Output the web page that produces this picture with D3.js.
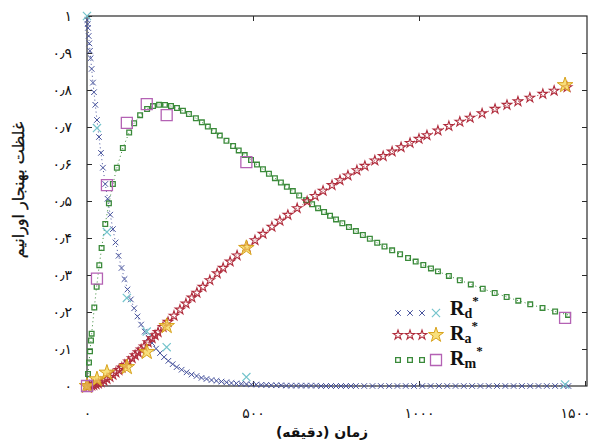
<!DOCTYPE html>
<html><head><meta charset="utf-8">
<script src="https://cdn.jsdelivr.net/npm/d3@7"></script>
<style>body{margin:0;background:#fff}svg{display:block}</style>
</head><body>
<svg id="c" width="592" height="443"></svg>
<script>
// ---- data ----
const tD = [0,1,2,3,5,7,9,11,14,18,21,25,30,36,42,48,55,62,70,78,86,95,104,113,122,132,142,152,163,174,185,196,208,220,232,245,258,270,285,300,315,330,345,360,375,390,405,420,435,450,465,480,495,510,525,540,555,570,585,600,615,630,645,660,675,690,705,720,735,750,765,780,795,810,835,860,885,910,935,960,985,1010,1035,1060,1085,1110,1135,1160,1185,1210,1235,1260,1285,1310,1335,1360,1385,1410,1435,1450];
const rd = [1,0.989,0.978,0.968,0.946,0.926,0.906,0.886,0.857,0.820,0.794,0.760,0.719,0.673,0.630,0.590,0.546,0.506,0.463,0.424,0.388,0.352,0.319,0.289,0.261,0.234,0.210,0.188,0.166,0.147,0.131,0.116,0.101,0.089,0.078,0.068,0.059,0.051,0.044,0.037,0.031,0.027,0.022,0.019,0.016,0.014,0.012,0.010,0.008,0.007,0.006,0.005,0.004,0.004,0.003,0.003,0.002,0.002,0.002,0.001,0.001,0.001,0.001,0.001,0.001,0.001,0,0,0,0,0,0,0,0,0,0,0,0,0,0,0,0,0,0,0,0,0,0,0,0,0,0,0,0,0,0,0,0,0,0];
const tA = [0,3,8,14,20,27,34,42,51,60,69,78,87,96,105,114,125,136,145,154,163,172,184,196,205,214,229,244,262,280,298,316,331,349,370,392,410,431,452,482,506,530,557,581,605,633,663,687,711,738,762,786,813,837,867,892,919,946,973,1000,1024,1057,1090,1123,1154,1190,1229,1265,1298,1334,1373,1407,1446];
const ra = [0,0.0001,0.0004,0.0012,0.0025,0.0044,0.0067,0.0099,0.0142,0.0190,0.0243,0.0301,0.0363,0.0428,0.0496,0.0567,0.0657,0.0750,0.0828,0.0907,0.0987,0.1068,0.1177,0.1287,0.1370,0.1454,0.1593,0.1732,0.1898,0.2063,0.2226,0.2388,0.2520,0.2678,0.2858,0.3043,0.3192,0.3361,0.3527,0.3758,0.3937,0.4111,0.4301,0.4465,0.4624,0.4804,0.4990,0.5135,0.5275,0.5428,0.5560,0.5688,0.5828,0.5948,0.6094,0.6211,0.6334,0.6452,0.6567,0.6679,0.6775,0.6902,0.7024,0.7141,0.7248,0.7366,0.7488,0.7596,0.7691,0.7790,0.7893,0.7979,0.8072];
const tM = [0,3,6,9,12,14,22,29,37,44,55,66,78,90,108,127,142,160,181,199,217,235,253,271,289,307,328,346,364,382,400,420,440,457,475,494,512,530,548,566,584,602,620,639,660,678,696,714,732,750,769,789,810,831,852,874,896,919,943,967,990,1013,1036,1057,1090,1123,1156,1192,1228,1264,1299,1335,1372,1410,1449];
const rm = [0,0.0324,0.0636,0.0938,0.1228,0.1415,0.2120,0.2682,0.3265,0.3728,0.4377,0.4936,0.5459,0.5900,0.6432,0.6853,0.7101,0.7320,0.7485,0.7565,0.7599,0.7598,0.7566,0.7512,0.7439,0.7351,0.7235,0.7126,0.7011,0.6891,0.6768,0.6629,0.6488,0.6368,0.6241,0.6108,0.5984,0.5860,0.5738,0.5618,0.5499,0.5382,0.5268,0.5149,0.5021,0.4913,0.4807,0.4704,0.4602,0.4503,0.4400,0.4295,0.4186,0.4081,0.3978,0.3872,0.3770,0.3666,0.3560,0.3458,0.3362,0.3269,0.3178,0.3098,0.2976,0.2859,0.2746,0.2628,0.2515,0.2407,0.2306,0.2207,0.2110,0.2014,0.1921];
const tExp = [0,30,60,120,180,240,480,1440];
const rdExp = [1.0,0.697,0.416,0.238,0.147,0.105,0.024,0.004];
const raExp = [0,0.018,0.036,0.051,0.092,0.162,0.373,0.813];
const rmExp = [0,0.29,0.543,0.711,0.762,0.732,0.605,0.184];
const yTicks = [0,0.1,0.2,0.3,0.4,0.5,0.6,0.7,0.8,0.9,1];
const yTickLabels = ["۰","۰٫۱","۰٫۲","۰٫۳","۰٫۴","۰٫۵","۰٫۶","۰٫۷","۰٫۸","۰٫۹","۱"];
const xTicks = [0,500,1000,1500];
const xTickLabels = ["۰","۵۰۰","۱۰۰۰","۱۵۰۰"];
const yTitle = "غلظت بهنجار اورانیم";
const xTitle = "زمان (دقیقه)";
const legendNames = [["R","d"],["R","a"],["R","m"]];

// ---- layout ----
const L = 87, R = 587, T = 16, B = 386;
const x = d3.scaleLinear().domain([0,1500]).range([L,585]);
const y = d3.scaleLinear().domain([0,1]).range([B,T]);
const svg = d3.select("#c");
const FA = "DejaVu Sans";

const cD = "#46529c", cDx = "#74c4cc";
const cA = "#b02c3c", cAxF = "#f5d550", cAxS = "#d8a21c";
const cM = "#3a8a3a", cMx = "#b462b4";

// frame
svg.append("rect").attr("x",L).attr("y",T).attr("width",R-L).attr("height",B-T)
  .attr("fill","none").attr("stroke","#2a2a2a").attr("stroke-width",1.2);

// axes (inward ticks)
const gl = svg.append("g").attr("transform",`translate(${L},0)`)
  .call(d3.axisLeft(y).tickValues(yTicks).tickFormat((d,i)=>yTickLabels[i]).tickSizeInner(-5).tickSizeOuter(0).tickPadding(15));
gl.select(".domain").remove();
gl.selectAll("line").attr("stroke","#2a2a2a");
gl.selectAll("text").attr("font-family",FA).attr("font-size",14).attr("fill","#111");

const gr = svg.append("g").attr("transform",`translate(${R},0)`)
  .call(d3.axisRight(y).tickValues(yTicks.slice(1,10)).tickFormat("").tickSizeInner(-5).tickSizeOuter(0));
gr.select(".domain").remove(); gr.selectAll("line").attr("stroke","#2a2a2a");

const gt = svg.append("g").attr("transform",`translate(0,${T})`)
  .call(d3.axisTop(x).tickValues([500,1000]).tickFormat("").tickSizeInner(-5).tickSizeOuter(0));
gt.select(".domain").remove(); gt.selectAll("line").attr("stroke","#2a2a2a");

const gb = svg.append("g").attr("transform",`translate(0,${B})`)
  .call(d3.axisBottom(x).tickValues(xTicks).tickFormat((d,i)=>xTickLabels[i]).tickSizeInner(-5).tickSizeOuter(0).tickPadding(22));
gb.select(".domain").remove(); gb.selectAll("line").attr("stroke","#2a2a2a");
gb.selectAll("text").attr("font-family",FA).attr("font-size",14).attr("fill","#111");
// keep the last label inside the picture
gb.selectAll(".tick").filter(d=>d===1500).select("text").attr("text-anchor","end").attr("dx",5);

// titles
svg.append("text").attr("transform",`translate(24,190) rotate(-90)`).attr("text-anchor","middle")
  .attr("font-family",FA).attr("font-size",16).attr("fill","#111").attr("stroke","#111").attr("stroke-width",0.3).text(yTitle);
svg.append("text").attr("x",322).attr("y",437).attr("text-anchor","middle")
  .attr("font-family",FA).attr("font-size",14).attr("font-weight","bold").attr("fill","#111").text(xTitle);

// series
const plot = svg.append("g");
function series(ts, vs, color, type, size, sw){
  const pts = ts.map((t,i)=>[x(t),y(vs[i])]);
  plot.append("path").attr("d",d3.line()(pts)).attr("fill","none").attr("stroke",color)
    .attr("stroke-width",1).attr("stroke-dasharray","1,3");
  plot.append("g").selectAll("path").data(pts).join("path")
    .attr("transform",d=>`translate(${d[0]},${d[1]})`)
    .attr("d",d3.symbol().type(type).size(size)())
    .attr("fill","none").attr("stroke",color).attr("stroke-width",sw);
}
series(tM, rm, cM, d3.symbolSquare, 22, 1.3);
series(tD, rd, cD, d3.symbolX, 22, 1);
series(tA, ra, cA, d3.symbolStar, 28, 1.1);

// experimental
function expPts(vs){ return tExp.map((t,i)=>[x(t),y(vs[i])]); }
plot.append("g").selectAll("path").data(expPts(rdExp)).join("path")
  .attr("transform",d=>`translate(${d[0]},${d[1]})`)
  .attr("d",d3.symbol().type(d3.symbolX).size(45)()).attr("fill","none").attr("stroke",cDx).attr("stroke-width",1.2);
plot.append("g").selectAll("path").data(expPts(raExp)).join("path")
  .attr("transform",d=>`translate(${d[0]},${d[1]})`)
  .attr("d",d3.symbol().type(d3.symbolStar).size(75)()).attr("fill",cAxF).attr("fill-opacity",0.75).attr("stroke",cAxS).attr("stroke-width",1);
plot.append("g").selectAll("path").data(expPts(rmExp)).join("path")
  .attr("transform",d=>`translate(${d[0]},${d[1]})`)
  .attr("d",d3.symbol().type(d3.symbolSquare).size(121)()).attr("fill","none").attr("stroke",cMx).attr("stroke-width",1.3);

// legend
const leg = [
  {c:cD, type:d3.symbolX, s:22, sw:1, xc:cDx, xt:d3.symbolX, xs:45, xf:"none", xsw:1.2, my:313, ty:315},
  {c:cA, type:d3.symbolStar, s:28, sw:1.1, xc:cAxS, xt:d3.symbolStar, xs:70, xf:cAxF, xsw:1, my:335, ty:340},
  {c:cM, type:d3.symbolSquare, s:22, sw:1.3, xc:cMx, xt:d3.symbolSquare, xs:121, xf:"none", xsw:1.3, my:360, ty:365}
];
leg.forEach((e,i)=>{
  const g = svg.append("g");
  [398,410,422].forEach(px=>{
    g.append("path").attr("transform",`translate(${px},${e.my})`).attr("d",d3.symbol().type(e.type).size(e.s)())
     .attr("fill","none").attr("stroke",e.c).attr("stroke-width",e.sw);
  });
  g.append("path").attr("transform",`translate(436,${e.my})`).attr("d",d3.symbol().type(e.xt).size(e.xs)())
   .attr("fill",e.xf).attr("fill-opacity",0.75).attr("stroke",e.xc).attr("stroke-width",e.xsw);
  const t = g.append("text").attr("x",450).attr("y",e.ty).attr("font-family","Liberation Serif")
   .attr("font-weight","bold").attr("font-size",20).attr("fill","#111");
  t.append("tspan").text(legendNames[i][0]);
  t.append("tspan").attr("font-size",14).attr("dy",3).text(legendNames[i][1]);
  t.append("tspan").attr("font-size",13).attr("dy",-13).text("*");
});
</script>
</body></html>
